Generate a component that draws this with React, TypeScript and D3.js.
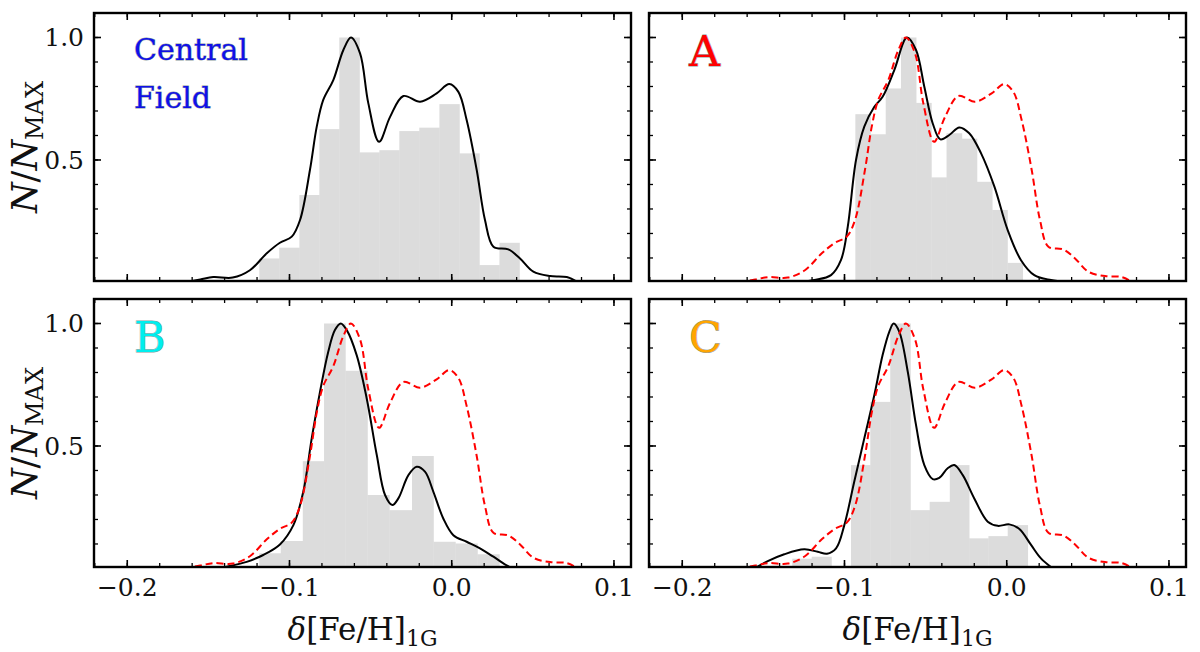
import * as d3 from "d3";

// histogram bin edges and normalised heights
const centralEdges = [-0.1186, -0.1063, -0.0939, -0.0816, -0.0693, -0.0569, -0.0446, -0.0323, -0.02, -0.0076, 0.0047, 0.017, 0.0294, 0.0417];
const centralHeights = [0.098, 0.142, 0.357, 0.626, 1.0, 0.531, 0.54, 0.618, 0.632, 0.728, 0.527, 0.071, 0.162];

const aEdges = [-0.0933, -0.084, -0.0746, -0.0652, -0.0559, -0.0465, -0.0371, -0.0277, -0.0184, -0.009, 0.0004, 0.0098];
const aHeights = [0.687, 0.605, 0.792, 1.0, 0.733, 0.429, 0.609, 0.587, 0.411, 0.296, 0.08];

const bEdges = [-0.1186, -0.1054, -0.0918, -0.0787, -0.0656, -0.052, -0.0385, -0.0245, -0.0113, 0.0022, 0.0158, 0.0293];
const bHeights = [0.062, 0.112, 0.438, 1.0, 0.807, 0.3, 0.238, 0.459, 0.109, 0.102, 0.058];

const cEdges = [-0.1322, -0.1202, -0.1081, -0.096, -0.0841, -0.0718, -0.0594, -0.0475, -0.0351, -0.0232, -0.0113, 0.0006, 0.0129];
const cHeights = [0.04, 0.048, 0, 0.422, 0.68, 1.0, 0.238, 0.272, 0.422, 0.123, 0.132, 0.177];

// KDE curves [delta Fe/H, N/Nmax]
const centralKde: [number, number][] = [
  [-0.165, 0.0], [-0.155, 0.012], [-0.147, 0.022], [-0.135, 0.02], [-0.1244, 0.05],
  [-0.114, 0.119], [-0.1059, 0.162], [-0.0986, 0.187], [-0.0935, 0.255], [-0.0874, 0.459],
  [-0.0832, 0.636], [-0.0792, 0.745], [-0.073, 0.826], [-0.0668, 0.949], [-0.0621, 1.0],
  [-0.0565, 0.935], [-0.0514, 0.731], [-0.0448, 0.574], [-0.038, 0.676], [-0.0298, 0.761],
  [-0.0195, 0.738], [-0.0093, 0.772], [-0.0015, 0.81], [0.0041, 0.778], [0.0092, 0.663],
  [0.0154, 0.459], [0.0205, 0.255], [0.0257, 0.146], [0.0349, 0.135], [0.0421, 0.098],
  [0.0503, 0.044], [0.0606, 0.026], [0.0709, 0.022], [0.078, 0.0],
];
const aKde: [number, number][] = [
  [-0.125, 0.003], [-0.1186, 0.01], [-0.1083, 0.03], [-0.1022, 0.091], [-0.098, 0.227],
  [-0.0929, 0.5], [-0.0878, 0.636], [-0.0816, 0.717], [-0.0765, 0.758], [-0.0693, 0.867],
  [-0.0615, 1.0], [-0.0559, 0.949], [-0.0508, 0.799], [-0.0456, 0.649], [-0.0409, 0.584],
  [-0.0354, 0.602], [-0.0292, 0.633], [-0.0231, 0.609], [-0.0158, 0.527], [-0.0076, 0.391],
  [0.0006, 0.214], [0.0088, 0.091], [0.017, 0.03], [0.0273, 0.01], [0.04, 0.0],
];
const bKde: [number, number][] = [
  [-0.145, 0.0], [-0.1367, 0.01], [-0.1264, 0.027], [-0.1162, 0.055], [-0.1059, 0.098],
  [-0.0976, 0.177], [-0.0915, 0.313], [-0.0863, 0.531], [-0.0812, 0.721], [-0.0761, 0.885],
  [-0.072, 0.973], [-0.0684, 1.0], [-0.0647, 0.973], [-0.0586, 0.871], [-0.0524, 0.694],
  [-0.0462, 0.463], [-0.0411, 0.3], [-0.0366, 0.259], [-0.0329, 0.286], [-0.0267, 0.381],
  [-0.0216, 0.415], [-0.0165, 0.395], [-0.0113, 0.313], [-0.0052, 0.204], [0.001, 0.136],
  [0.0092, 0.109], [0.0174, 0.082], [0.0257, 0.048], [0.0359, 0.006], [0.042, 0.0],
];
const cKde: [number, number][] = [
  [-0.1556, 0.0], [-0.1473, 0.03], [-0.1371, 0.058], [-0.1248, 0.078], [-0.1165, 0.068],
  [-0.1108, 0.06], [-0.1052, 0.082], [-0.1001, 0.177], [-0.094, 0.354], [-0.0878, 0.531],
  [-0.0816, 0.708], [-0.0765, 0.871], [-0.0724, 0.966], [-0.0697, 1.0], [-0.0662, 0.966],
  [-0.061, 0.803], [-0.0559, 0.585], [-0.0508, 0.422], [-0.0456, 0.365], [-0.0416, 0.37],
  [-0.0364, 0.409], [-0.0323, 0.422], [-0.0271, 0.381], [-0.02, 0.286], [-0.0117, 0.191],
  [-0.0055, 0.174], [0.0016, 0.18], [0.0078, 0.161], [0.015, 0.096], [0.0211, 0.041],
  [0.0284, 0.0],
];

const xMajorLabels = ["\u22120.2", "\u22120.1", "0.0", "0.1"];

const X_DOMAIN: [number, number] = [-0.2205, 0.1105];
const Y_DOMAIN: [number, number] = [0.006, 1.1];
// the only serif face that actually resolves in the renderer
const SERIF = "DejaVu Serif";

type Panel = {
  key: string;
  x0: number; x1: number; y0: number; y1: number;
  edges: number[]; heights: number[]; kde: [number, number][];
  label: string[]; color: string; labelSize: number;
  showRef: boolean; left: boolean; bottom: boolean;
};

const panels: Panel[] = [
  { key: "cf", x0: 94, x1: 631, y0: 13, y1: 281, edges: centralEdges, heights: centralHeights, kde: centralKde,
    label: ["Central", "Field"], color: "#1010e8", labelSize: 30, showRef: false, left: true, bottom: false },
  { key: "a", x0: 649, x1: 1186, y0: 13, y1: 281, edges: aEdges, heights: aHeights, kde: aKde,
    label: ["A"], color: "#ff0000", labelSize: 43, showRef: true, left: false, bottom: false },
  { key: "b", x0: 94, x1: 631, y0: 299, y1: 567, edges: bEdges, heights: bHeights, kde: bKde,
    label: ["B"], color: "#00eeee", labelSize: 43, showRef: true, left: true, bottom: true },
  { key: "c", x0: 649, x1: 1186, y0: 299, y1: 567, edges: cEdges, heights: cHeights, kde: cKde,
    label: ["C"], color: "#ffa500", labelSize: 43, showRef: true, left: false, bottom: true },
];

function PanelView({ p }: { p: Panel }) {
  const x = d3.scaleLinear().domain(X_DOMAIN).range([p.x0, p.x1]);
  const y = d3.scaleLinear().domain(Y_DOMAIN).range([p.y1, p.y0]);
  const line = d3.line<[number, number]>()
    .x(d => x(d[0])).y(d => y(d[1]))
    .curve(d3.curveCatmullRom.alpha(0.5));

  const xMajor = x.ticks(3);
  const xMinor = x.ticks(16);
  const yMajor = y.ticks(2);
  const yMinor = y.ticks(10).filter(v => v < 1.05);
  const MJ = 7, MN = 4;

  const bars = p.heights.map((h, i) => ({ a: p.edges[i], b: p.edges[i + 1], h }));

  return (
    <g>
      <defs>
        <clipPath id={`clip-${p.key}`}>
          <rect x={p.x0} y={p.y0} width={p.x1 - p.x0} height={p.y1 - p.y0} />
        </clipPath>
      </defs>
      <g clipPath={`url(#clip-${p.key})`}>
        {bars.filter(b => b.h > 0).map((b, i) => (
          <rect key={i} x={x(b.a)} y={y(b.h)} width={x(b.b) - x(b.a) + 0.4}
            height={p.y1 - y(b.h) + 2} fill="#dcdcdc" />
        ))}
        <path d={line(p.kde) ?? ""} fill="none" stroke="#000" strokeWidth={2} />
        {p.showRef && (
          <path d={line(centralKde) ?? ""} fill="none" stroke="#ff0000" strokeWidth={2}
            strokeDasharray="7,4" />
        )}
      </g>

      {/* ticks on all four sides, pointing in */}
      {xMinor.map(v => (
        <g key={`xm${v}`} stroke="#000" strokeWidth={1.3}>
          <line x1={x(v)} x2={x(v)} y1={p.y1} y2={p.y1 - MN} />
          <line x1={x(v)} x2={x(v)} y1={p.y0} y2={p.y0 + MN} />
        </g>
      ))}
      {xMajor.map(v => (
        <g key={`xM${v}`} stroke="#000" strokeWidth={1.6}>
          <line x1={x(v)} x2={x(v)} y1={p.y1} y2={p.y1 - MJ} />
          <line x1={x(v)} x2={x(v)} y1={p.y0} y2={p.y0 + MJ} />
        </g>
      ))}
      {yMinor.map(v => (
        <g key={`ym${v}`} stroke="#000" strokeWidth={1.3}>
          <line x1={p.x0} x2={p.x0 + MN} y1={y(v)} y2={y(v)} />
          <line x1={p.x1} x2={p.x1 - MN} y1={y(v)} y2={y(v)} />
        </g>
      ))}
      {yMajor.map(v => (
        <g key={`yM${v}`} stroke="#000" strokeWidth={1.6}>
          <line x1={p.x0} x2={p.x0 + MJ} y1={y(v)} y2={y(v)} />
          <line x1={p.x1} x2={p.x1 - MJ} y1={y(v)} y2={y(v)} />
        </g>
      ))}

      <rect x={p.x0} y={p.y0} width={p.x1 - p.x0} height={p.y1 - p.y0}
        fill="none" stroke="#000" strokeWidth={2.4} />

      {p.bottom && xMajor.map((v, i) => (
        <text key={`xl${v}`} x={x(v)} y={p.y1 + 29} textAnchor="middle"
          fontFamily={SERIF} fontSize={25} fill="#111">{xMajorLabels[i]}</text>
      ))}
      {p.left && yMajor.map(v => (
        <text key={`yl${v}`} x={p.x0 - 10} y={y(v)} dy="0.36em" textAnchor="end"
          fontFamily={SERIF} fontSize={25} fill="#111">{v.toFixed(1)}</text>
      ))}

      {p.label.map((t, i) => (
        <text key={t} x={p.x0 + 40} y={p.key === "cf" ? p.y0 + 47 + i * 48 : p.y0 + 53}
          fontFamily={SERIF} fontSize={p.labelSize} fill={p.color}
          stroke="#8a9a9a" strokeWidth={0.9} paintOrder="stroke">{t}</text>
      ))}

      {p.left && (
        <text transform={`translate(${p.x0 - 57},${(p.y0 + p.y1) / 2}) rotate(-90)`}
          textAnchor="middle" fontFamily={SERIF} fontSize={35} fill="#111">
          <tspan fontStyle="italic">N</tspan>
          <tspan>/</tspan>
          <tspan fontStyle="italic">N</tspan>
          <tspan fontSize={24} dy={6}>MAX</tspan>
        </text>
      )}
      {p.bottom && (
        <text x={(p.x0 + p.x1) / 2} y={p.y1 + 73} textAnchor="middle"
          fontFamily={SERIF} fontSize={31} fill="#111">
          <tspan fontStyle="italic">δ</tspan>
          <tspan>[Fe/H]</tspan>
          <tspan fontSize={22} dy={6}>1G</tspan>
        </text>
      )}
    </g>
  );
}

export default function App() {
  return (
    <svg width={1200} height={652} viewBox="0 0 1200 652"
      style={{ position: "absolute", left: 0, top: 0, background: "#fff" }}>
      <rect x={0} y={0} width={1200} height={652} fill="#fff" />
      {panels.map(p => <PanelView key={p.key} p={p} />)}
    </svg>
  );
}
